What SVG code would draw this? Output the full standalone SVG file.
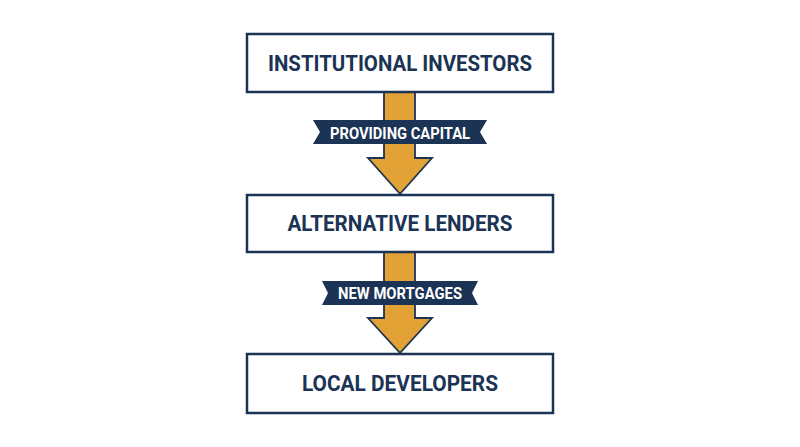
<svg xmlns="http://www.w3.org/2000/svg" width="800" height="447" viewBox="0 0 800 447">
<style>
.box{fill:#fff;stroke:#1b3354;stroke-width:2.5}
.arrow{fill:#E2A236;stroke:#1b3354;stroke-width:1.8;stroke-linejoin:miter}
.banner{fill:#1b3354}
.t{font-family:Roboto,"Liberation Sans",sans-serif;font-weight:700;fill:#1b3354;font-size:22px;text-anchor:middle}
.bt{font-family:Roboto,"Liberation Sans",sans-serif;font-weight:700;fill:#fff;font-size:16.5px;text-anchor:middle}
</style>
<rect width="800" height="447" fill="#fff"/>
<g id="connectors">
<g id="arrow1">
<path class="arrow" d="M384,92 L415,92 L415,158 L432,158 L400,194 L368,158 L384,158 Z"/>
<path class="banner" d="M313,120 L487,120 L480,132 L487,144 L313,144 L320,132 Z"/>
<text class="bt" x="400" y="138.5" textLength="140" lengthAdjust="spacingAndGlyphs">PROVIDING CAPITAL</text>
</g>
<g id="arrow2">
<path class="arrow" d="M384,252 L415,252 L415,318 L432,318 L400,353 L368,318 L384,318 Z"/>
<path class="banner" d="M322,281 L478,281 L472,293 L478,305 L322,305 L328,293 Z"/>
<text class="bt" x="400" y="298.5" textLength="124" lengthAdjust="spacingAndGlyphs">NEW MORTGAGES</text>
</g>
</g>
<g id="node1">
<rect class="box" x="247" y="34" width="306" height="58"/>
<text class="t" x="400" y="71" textLength="264" lengthAdjust="spacingAndGlyphs">INSTITUTIONAL INVESTORS</text>
</g>
<g id="node2">
<rect class="box" x="247" y="195" width="306" height="57"/>
<text class="t" x="400" y="231" textLength="225" lengthAdjust="spacingAndGlyphs">ALTERNATIVE LENDERS</text>
</g>
<g id="node3">
<rect class="box" x="247" y="354" width="306" height="59"/>
<text class="t" x="400" y="391" textLength="196" lengthAdjust="spacingAndGlyphs">LOCAL DEVELOPERS</text>
</g>
</svg>
